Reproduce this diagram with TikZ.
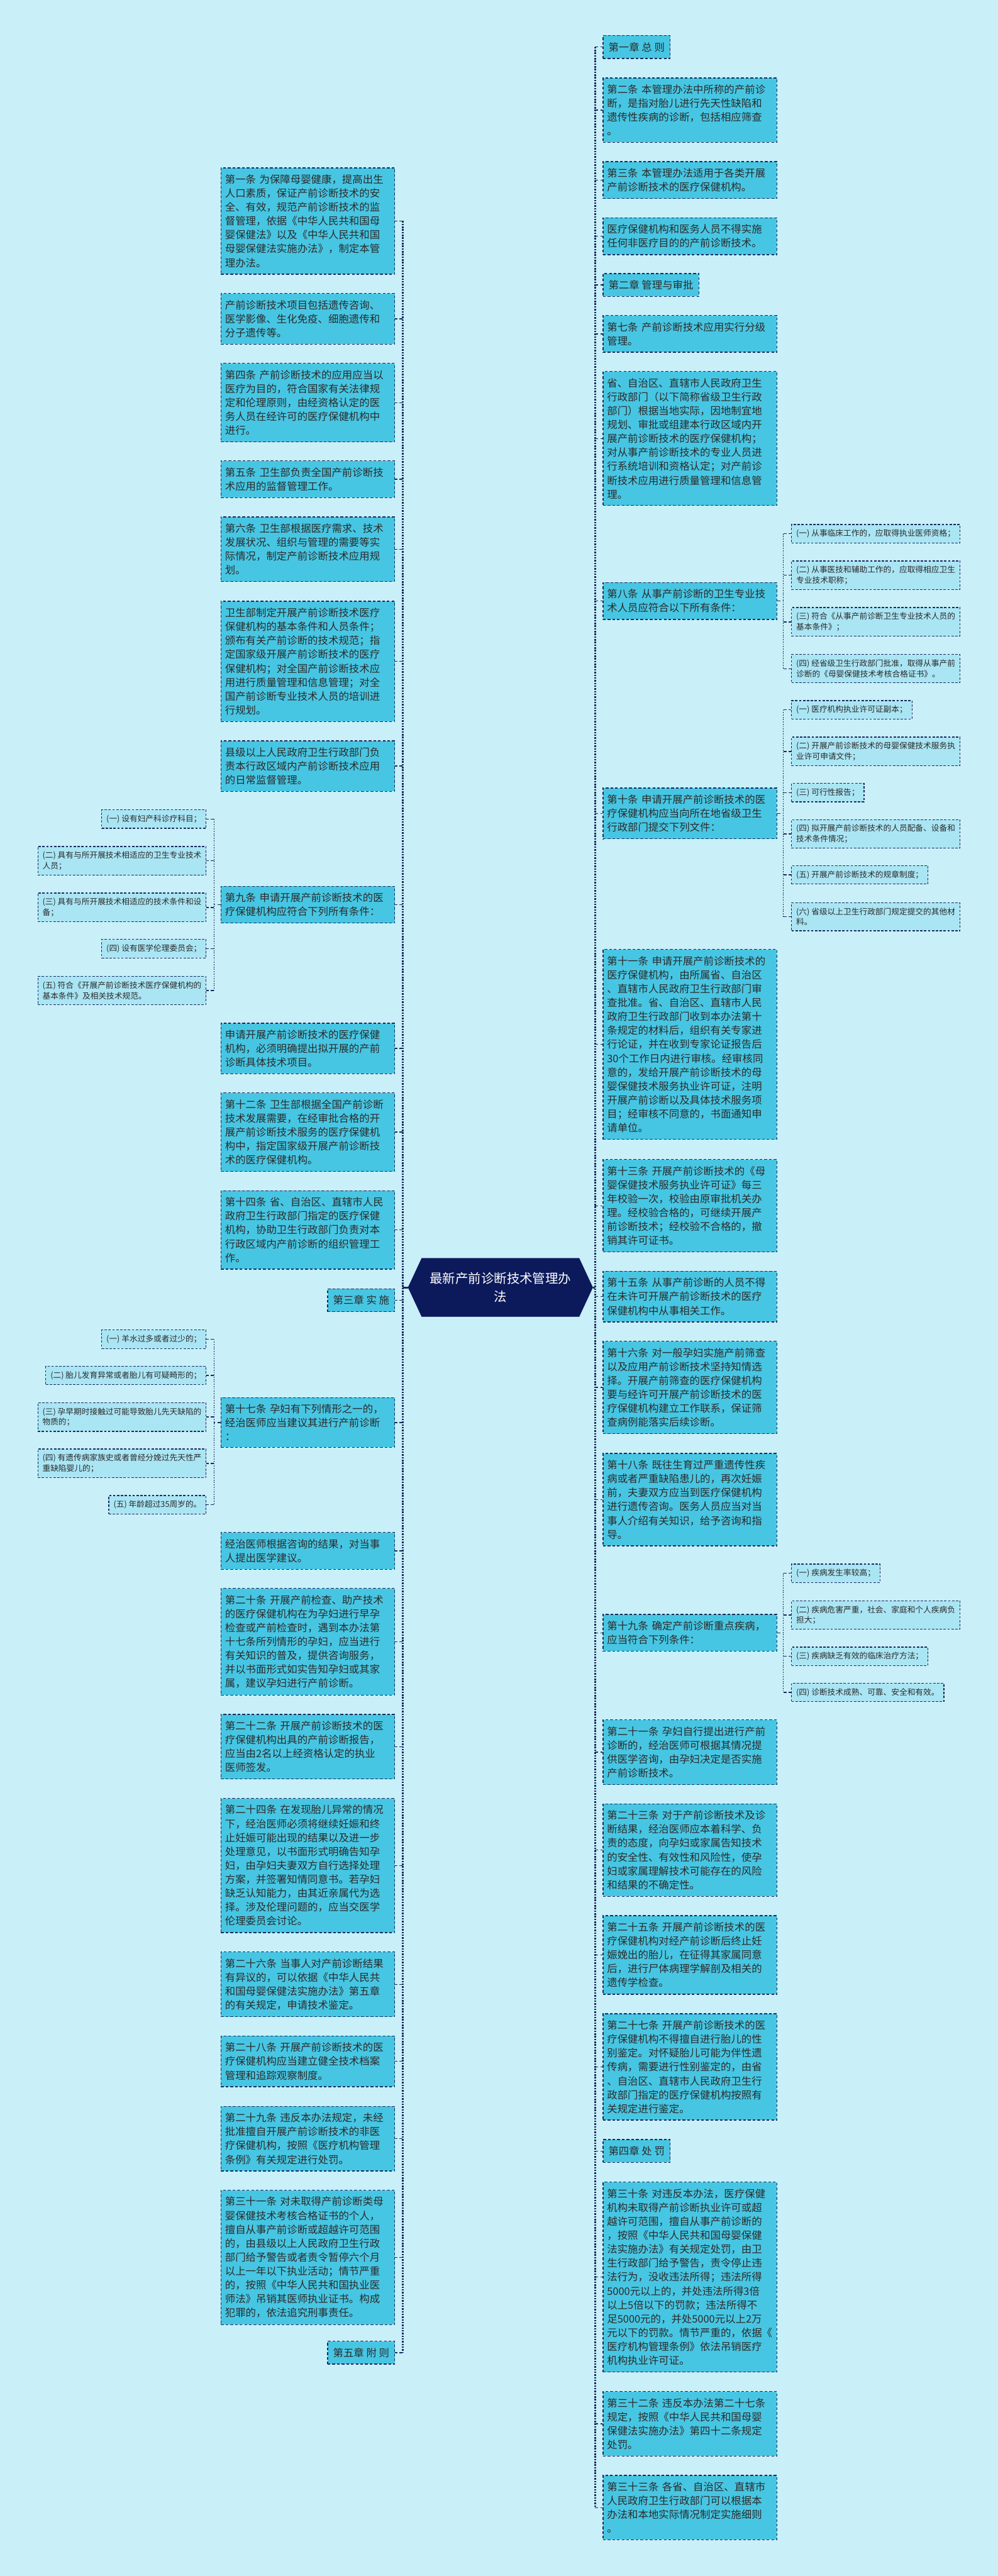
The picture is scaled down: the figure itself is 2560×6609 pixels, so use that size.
\documentclass[tikz,border=0pt]{standalone}
\usepackage{fontspec}
\setmainfont{Noto Sans CJK SC}
\usetikzlibrary{shapes.symbols}
\definecolor{bgc}{HTML}{C9EFF8}
\definecolor{mainfill}{HTML}{47C6E3}
\definecolor{subfill}{HTML}{AAE5F4}
\definecolor{edgec}{HTML}{1B2A5E}
\definecolor{txt}{HTML}{2B2B2B}
\definecolor{rootc}{HTML}{0C1A5B}
\tikzset{
 box/.style={draw=edgec, line width=2.2pt, dash pattern=on 7pt off 5pt, text=txt, align=left, inner ysep=17pt, inner xsep=10.5pt, font=\fontsize{26.5}{35.7}\selectfont},
 mbox/.style={box, fill=mainfill, text width=425pt},
 chap/.style={box, fill=mainfill, inner xsep=14pt},
 sbox/.style={draw=edgec, line width=2pt, dash pattern=on 6pt off 4pt, fill=subfill, text=txt, align=left, inner ysep=13pt, inner xsep=12pt, font=\fontsize{20.5}{27}\selectfont},
 spine/.style={draw=edgec, line width=5pt, dash pattern=on 4pt off 3pt},
 subspine/.style={draw=edgec, line width=2.2pt, dash pattern=on 3pt off 3pt},
 stub/.style={draw=edgec, line width=2.2pt, dash pattern=on 8pt off 6pt},
 rootlink/.style={draw=edgec, line width=5pt},
 rootnode/.style={signal, signal to=east and west, signal pointer angle=130, fill=rootc, draw=rootc, text=white, align=center, text width=380pt, font=\fontsize{33}{46}\selectfont, minimum width=474pt, minimum height=150pt}
}
\begin{document}
\begin{tikzpicture}[x=1pt,y=-1pt]
\fill[bgc] (0,0) rectangle (2560,6609);
\useasboundingbox (0,0) rectangle (2560,6609);

% root
\node[rootnode] (root) at (1284,3303) {最新产前诊断技术管理办\\法};
\coordinate (lsp) at (1033,3303);
\coordinate (rsp) at (1527,3303);

% right column
\node[chap, anchor=west] (R1) at (1546,120.5) {第一章 总 则};
\node[mbox, anchor=west] (R2) at (1546,282.5) {第二条 本管理办法中所称的产前诊\\断，是指对胎儿进行先天性缺陷和\\遗传性疾病的诊断，包括相应筛查\\。};
\node[mbox, anchor=west] (R3) at (1546,462) {第三条 本管理办法适用于各类开展\\产前诊断技术的医疗保健机构。};
\node[mbox, anchor=west] (R4) at (1546,606) {医疗保健机构和医务人员不得实施\\任何非医疗目的的产前诊断技术。};
\node[chap, anchor=west] (R5) at (1546,731) {第二章 管理与审批};
\node[mbox, anchor=west] (R6) at (1546,856.5) {第七条 产前诊断技术应用实行分级\\管理。};
\node[mbox, anchor=west] (R7) at (1546,1125) {省、自治区、直辖市人民政府卫生\\行政部门（以下简称省级卫生行政\\部门）根据当地实际，因地制宜地\\规划、审批或组建本行政区域内开\\展产前诊断技术的医疗保健机构；\\对从事产前诊断技术的专业人员进\\行系统培训和资格认定；对产前诊\\断技术应用进行质量管理和信息管\\理。};
\node[mbox, anchor=west] (R8) at (1546,1542) {第八条 从事产前诊断的卫生专业技\\术人员应符合以下所有条件：};
\node[mbox, anchor=west] (R9) at (1546,2087) {第十条 申请开展产前诊断技术的医\\疗保健机构应当向所在地省级卫生\\行政部门提交下列文件：};
\node[mbox, anchor=west] (R10) at (1546,2679.5) {第十一条 申请开展产前诊断技术的\\医疗保健机构，由所属省、自治区\\、直辖市人民政府卫生行政部门审\\查批准。省、自治区、直辖市人民\\政府卫生行政部门收到本办法第十\\条规定的材料后，组织有关专家进\\行论证，并在收到专家论证报告后\\30个工作日内进行审核。经审核同\\意的，发给开展产前诊断技术的母\\婴保健技术服务执业许可证，注明\\开展产前诊断以及具体技术服务项\\目；经审核不同意的，书面通知申\\请单位。};
\node[mbox, anchor=west] (R11) at (1546,3093.5) {第十三条 开展产前诊断技术的《母\\婴保健技术服务执业许可证》每三\\年校验一次，校验由原审批机关办\\理。经校验合格的，可继续开展产\\前诊断技术；经校验不合格的，撤\\销其许可证书。};
\node[mbox, anchor=west] (R12) at (1546,3326.5) {第十五条 从事产前诊断的人员不得\\在未许可开展产前诊断技术的医疗\\保健机构中从事相关工作。};
\node[mbox, anchor=west] (R13) at (1546,3559.5) {第十六条 对一般孕妇实施产前筛查\\以及应用产前诊断技术坚持知情选\\择。开展产前筛查的医疗保健机构\\要与经许可开展产前诊断技术的医\\疗保健机构建立工作联系，保证筛\\查病例能落实后续诊断。};
\node[mbox, anchor=west] (R14) at (1546,3847.5) {第十八条 既往生育过严重遗传性疾\\病或者严重缺陷患儿的，再次妊娠\\前，夫妻双方应当到医疗保健机构\\进行遗传咨询。医务人员应当对当\\事人介绍有关知识，给予咨询和指\\导。};
\node[mbox, anchor=west] (R15) at (1546,4189) {第十九条 确定产前诊断重点疾病，\\应当符合下列条件：};
\node[mbox, anchor=west] (R16) at (1546,4495.5) {第二十一条 孕妇自行提出进行产前\\诊断的，经治医师可根据其情况提\\供医学咨询，由孕妇决定是否实施\\产前诊断技术。};
\node[mbox, anchor=west] (R17) at (1546,4746.5) {第二十三条 对于产前诊断技术及诊\\断结果，经治医师应本着科学、负\\责的态度，向孕妇或家属告知技术\\的安全性、有效性和风险性，使孕\\妇或家属理解技术可能存在的风险\\和结果的不确定性。};
\node[mbox, anchor=west] (R18) at (1546,5015.5) {第二十五条 开展产前诊断技术的医\\疗保健机构对经产前诊断后终止妊\\娠娩出的胎儿，在征得其家属同意\\后，进行尸体病理学解剖及相关的\\遗传学检查。};
\node[mbox, anchor=west] (R19) at (1546,5303) {第二十七条 开展产前诊断技术的医\\疗保健机构不得擅自进行胎儿的性\\别鉴定。对怀疑胎儿可能为伴性遗\\传病，需要进行性别鉴定的，由省\\、自治区、直辖市人民政府卫生行\\政部门指定的医疗保健机构按照有\\关规定进行鉴定。};
\node[chap, anchor=west] (R20) at (1546,5518.5) {第四章 处 罚};
\node[mbox, anchor=west] (R21) at (1546,5842) {第三十条 对违反本办法，医疗保健\\机构未取得产前诊断执业许可或超\\越许可范围，擅自从事产前诊断的\\，按照《中华人民共和国母婴保健\\法实施办法》有关规定处罚，由卫\\生行政部门给予警告，责令停止违\\法行为，没收违法所得；违法所得\\5000元以上的，并处违法所得3倍\\以上5倍以下的罚款；违法所得不\\足5000元的，并处5000元以上2万\\元以下的罚款。情节严重的，依据《\\医疗机构管理条例》依法吊销医疗\\机构执业许可证。};
\node[mbox, anchor=west] (R22) at (1546,6218.5) {第三十二条 违反本办法第二十七条\\规定，按照《中华人民共和国母婴\\保健法实施办法》第四十二条规定\\处罚。};
\node[mbox, anchor=west] (R23) at (1546,6433.5) {第三十三条 各省、自治区、直辖市\\人民政府卫生行政部门可以根据本\\办法和本地实际情况制定实施细则\\。};

% right sub children
\node[sbox, anchor=west] (C81) at (2030,1369.5) {(一) 从事临床工作的，应取得执业医师资格；};
\node[sbox, anchor=west] (C82) at (2030,1476) {(二) 从事医技和辅助工作的，应取得相应卫生\\专业技术职称；};
\node[sbox, anchor=west] (C83) at (2030,1595.5) {(三) 符合《从事产前诊断卫生专业技术人员的\\基本条件》；};
\node[sbox, anchor=west] (C84) at (2030,1715.5) {(四) 经省级卫生行政部门批准，取得从事产前\\诊断的《母婴保健技术考核合格证书》。};
\node[sbox, anchor=west] (C101) at (2030,1821) {(一) 医疗机构执业许可证副本；};
\node[sbox, anchor=west] (C102) at (2030,1928) {(二) 开展产前诊断技术的母婴保健技术服务执\\业许可申请文件；};
\node[sbox, anchor=west] (C103) at (2030,2033.5) {(三) 可行性报告；};
\node[sbox, anchor=west] (C104) at (2030,2139.5) {(四) 拟开展产前诊断技术的人员配备、设备和\\技术条件情况；};
\node[sbox, anchor=west] (C105) at (2030,2244.5) {(五) 开展产前诊断技术的规章制度；};
\node[sbox, anchor=west] (C106) at (2030,2352) {(六) 省级以上卫生行政部门规定提交的其他材\\料。};
\node[sbox, anchor=west] (C191) at (2030,4036.5) {(一) 疾病发生率较高；};
\node[sbox, anchor=west] (C192) at (2030,4143.5) {(二) 疾病危害严重，社会、家庭和个人疾病负\\担大；};
\node[sbox, anchor=west] (C193) at (2030,4249.5) {(三) 疾病缺乏有效的临床治疗方法；};
\node[sbox, anchor=west] (C194) at (2030,4342) {(四) 诊断技术成熟、可靠、安全和有效。};

% left column
\node[mbox, anchor=east] (L1) at (1014,567) {第一条 为保障母婴健康，提高出生\\人口素质，保证产前诊断技术的安\\全、有效，规范产前诊断技术的监\\督管理，依据《中华人民共和国母\\婴保健法》以及《中华人民共和国\\母婴保健法实施办法》，制定本管\\理办法。};
\node[mbox, anchor=east] (L2) at (1014,818) {产前诊断技术项目包括遗传咨询、\\医学影像、生化免疫、细胞遗传和\\分子遗传等。};
\node[mbox, anchor=east] (L3) at (1014,1033) {第四条 产前诊断技术的应用应当以\\医疗为目的，符合国家有关法律规\\定和伦理原则，由经资格认定的医\\务人员在经许可的医疗保健机构中\\进行。};
\node[mbox, anchor=east] (L4) at (1014,1229.5) {第五条 卫生部负责全国产前诊断技\\术应用的监督管理工作。};
\node[mbox, anchor=east] (L5) at (1014,1409) {第六条 卫生部根据医疗需求、技术\\发展状况、组织与管理的需要等实\\际情况，制定产前诊断技术应用规\\划。};
\node[mbox, anchor=east] (L6) at (1014,1697) {卫生部制定开展产前诊断技术医疗\\保健机构的基本条件和人员条件；\\颁布有关产前诊断的技术规范；指\\定国家级开展产前诊断技术的医疗\\保健机构；对全国产前诊断技术应\\用进行质量管理和信息管理；对全\\国产前诊断专业技术人员的培训进\\行规划。};
\node[mbox, anchor=east] (L7) at (1014,1965.5) {县级以上人民政府卫生行政部门负\\责本行政区域内产前诊断技术应用\\的日常监督管理。};
\node[mbox, anchor=east] (L8) at (1014,2321) {第九条 申请开展产前诊断技术的医\\疗保健机构应符合下列所有条件：};
\node[mbox, anchor=east] (L9) at (1014,2690) {申请开展产前诊断技术的医疗保健\\机构，必须明确提出拟开展的产前\\诊断具体技术项目。};
\node[mbox, anchor=east] (L10) at (1014,2904.5) {第十二条 卫生部根据全国产前诊断\\技术发展需要，在经审批合格的开\\展产前诊断技术服务的医疗保健机\\构中，指定国家级开展产前诊断技\\术的医疗保健机构。};
\node[mbox, anchor=east] (L11) at (1014,3155.5) {第十四条 省、自治区、直辖市人民\\政府卫生行政部门指定的医疗保健\\机构，协助卫生行政部门负责对本\\行政区域内产前诊断的组织管理工\\作。};
\node[chap, anchor=east] (L12) at (1014,3336) {第三章 实 施};
\node[mbox, anchor=east] (L13) at (1014,3649.5) {第十七条 孕妇有下列情形之一的，\\经治医师应当建议其进行产前诊断\\：};
\node[mbox, anchor=east] (L14) at (1014,3979) {经治医师根据咨询的结果，对当事\\人提出医学建议。};
\node[mbox, anchor=east] (L15) at (1014,4212) {第二十条 开展产前检查、助产技术\\的医疗保健机构在为孕妇进行早孕\\检查或产前检查时，遇到本办法第\\十七条所列情形的孕妇，应当进行\\有关知识的普及，提供咨询服务，\\并以书面形式如实告知孕妇或其家\\属，建议孕妇进行产前诊断。};
\node[mbox, anchor=east] (L16) at (1014,4481) {第二十二条 开展产前诊断技术的医\\疗保健机构出具的产前诊断报告，\\应当由2名以上经资格认定的执业\\医师签发。};
\node[mbox, anchor=east] (L17) at (1014,4786) {第二十四条 在发现胎儿异常的情况\\下，经治医师必须将继续妊娠和终\\止妊娠可能出现的结果以及进一步\\处理意见，以书面形式明确告知孕\\妇，由孕妇夫妻双方自行选择处理\\方案，并签署知情同意书。若孕妇\\缺乏认知能力，由其近亲属代为选\\择。涉及伦理问题的，应当交医学\\伦理委员会讨论。};
\node[mbox, anchor=east] (L18) at (1014,5091) {第二十六条 当事人对产前诊断结果\\有异议的，可以依据《中华人民共\\和国母婴保健法实施办法》第五章\\的有关规定，申请技术鉴定。};
\node[mbox, anchor=east] (L19) at (1014,5288.5) {第二十八条 开展产前诊断技术的医\\疗保健机构应当建立健全技术档案\\管理和追踪观察制度。};
\node[mbox, anchor=east] (L20) at (1014,5487) {第二十九条 违反本办法规定，未经\\批准擅自开展产前诊断技术的非医\\疗保健机构，按照《医疗机构管理\\条例》有关规定进行处罚。};
\node[mbox, anchor=east] (L21) at (1014,5791.5) {第三十一条 对未取得产前诊断类母\\婴保健技术考核合格证书的个人，\\擅自从事产前诊断或超越许可范围\\的，由县级以上人民政府卫生行政\\部门给予警告或者责令暂停六个月\\以上一年以下执业活动；情节严重\\的，按照《中华人民共和国执业医\\师法》吊销其医师执业证书。构成\\犯罪的，依法追究刑事责任。};
\node[chap, anchor=east] (L22) at (1014,6036) {第五章 附 则};

% left sub children
\node[sbox, anchor=east] (D91) at (530,2101.5) {(一) 设有妇产科诊疗科目；};
\node[sbox, anchor=east] (D92) at (530,2208.5) {(二) 具有与所开展技术相适应的卫生专业技术\\人员；};
\node[sbox, anchor=east] (D93) at (530,2328) {(三) 具有与所开展技术相适应的技术条件和设\\备；};
\node[sbox, anchor=east] (D94) at (530,2434) {(四) 设有医学伦理委员会；};
\node[sbox, anchor=east] (D95) at (530,2541) {(五) 符合《开展产前诊断技术医疗保健机构的\\基本条件》及相关技术规范。};
\node[sbox, anchor=east] (D171) at (530,3436) {(一) 羊水过多或者过少的；};
\node[sbox, anchor=east] (D172) at (530,3529) {(二) 胎儿发育异常或者胎儿有可疑畸形的；};
\node[sbox, anchor=east] (D173) at (530,3635.5) {(三) 孕早期时接触过可能导致胎儿先天缺陷的\\物质的；};
\node[sbox, anchor=east] (D174) at (530,3754.5) {(四) 有遗传病家族史或者曾经分娩过先天性严\\重缺陷婴儿的；};
\node[sbox, anchor=east] (D175) at (530,3860.5) {(五) 年龄超过35周岁的。};

% sub-spine coordinates
\coordinate (s8) at (2010,1542);
\coordinate (s10) at (2010,2087);
\coordinate (s19) at (2010,4189);
\coordinate (s9) at (549,2321);
\coordinate (s17) at (549,3649.5);

% main spines
\draw[rootlink] (root.west) -- (lsp);
\draw[rootlink] (root.east) -- (rsp);
\draw[spine] (L1.east -| lsp) -- (L22.east -| lsp);
\draw[spine] (R1.west -| rsp) -- (R23.west -| rsp);
\foreach \n in {L1,L2,L3,L4,L5,L6,L7,L8,L9,L10,L11,L12,L13,L14,L15,L16,L17,L18,L19,L20,L21,L22}
  \draw[stub] (\n.east -| lsp) -- (\n.east);
\foreach \n in {R1,R2,R3,R4,R5,R6,R7,R8,R9,R10,R11,R12,R13,R14,R15,R16,R17,R18,R19,R20,R21,R22,R23}
  \draw[stub] (\n.west -| rsp) -- (\n.west);

% right sub-branches
\draw[stub] (R8.east) -- (s8);
\draw[subspine] (C81.west -| s8) -- (C84.west -| s8);
\foreach \n in {C81,C82,C83,C84} \draw[stub] (\n.west -| s8) -- (\n.west);
\draw[stub] (R9.east) -- (s10);
\draw[subspine] (C101.west -| s10) -- (C106.west -| s10);
\foreach \n in {C101,C102,C103,C104,C105,C106} \draw[stub] (\n.west -| s10) -- (\n.west);
\draw[stub] (R15.east) -- (s19);
\draw[subspine] (C191.west -| s19) -- (C194.west -| s19);
\foreach \n in {C191,C192,C193,C194} \draw[stub] (\n.west -| s19) -- (\n.west);

% left sub-branches
\draw[stub] (L8.west) -- (s9);
\draw[subspine] (D91.east -| s9) -- (D95.east -| s9);
\foreach \n in {D91,D92,D93,D94,D95} \draw[stub] (\n.east -| s9) -- (\n.east);
\draw[stub] (L13.west) -- (s17);
\draw[subspine] (D171.east -| s17) -- (D175.east -| s17);
\foreach \n in {D171,D172,D173,D174,D175} \draw[stub] (\n.east -| s17) -- (\n.east);
\end{tikzpicture}
\end{document}
